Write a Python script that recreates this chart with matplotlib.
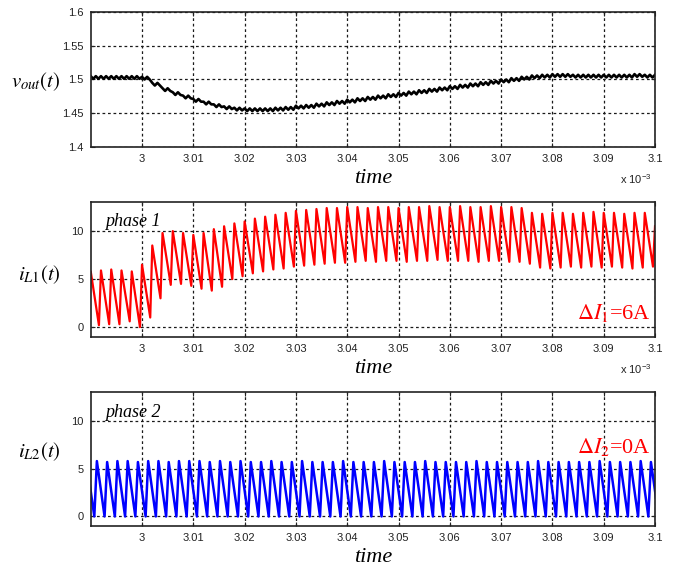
import matplotlib
matplotlib.use("Agg")
import matplotlib.pyplot as plt
import numpy as np

# time axis in units of 1e-3 s
x_ticks = [3.00, 3.01, 3.02, 3.03, 3.04, 3.05, 3.06, 3.07, 3.08, 3.09, 3.10]
x_tick_labels = ["3", "3.01", "3.02", "3.03", "3.04", "3.05", "3.06", "3.07", "3.08", "3.09", "3.1"]
v_ticks = [1.4, 1.45, 1.5, 1.55, 1.6]
v_tick_labels = ["1.4", "1.45", "1.5", "1.55", "1.6"]
i_ticks = [0, 5, 10]
i_tick_labels = ["0", "5", "10"]

# switching period and start of the window (1e-3 s)
period = 0.002
t_start = 2.990

# phase 1 inductor current: peak and valley of each switching cycle (A)
il1_peak = [5.8, 5.9, 6.0, 5.9, 5.8, 6.5, 8.5, 9.8, 10.0, 9.8,
            9.6, 9.8, 10.2, 10.5, 10.8, 11.0, 11.3, 11.5, 11.7, 11.9,
            12.1, 12.2, 12.3, 12.4, 12.4, 12.5, 12.5, 12.4, 12.5, 12.5,
            12.4, 12.5, 12.5, 12.6, 12.5, 12.5, 12.6, 12.5, 12.5, 12.6,
            12.5, 12.5, 12.4, 11.9, 11.8, 11.9, 11.9, 11.8, 11.9, 12.0,
            11.9, 11.9, 11.8, 11.9, 11.9, 10.5]
il1_valley = [0.2, 0.3, 0.3, 0.6, 0.0, 1.0, 3.0, 4.4, 4.5, 4.3,
              4.0, 3.8, 4.2, 5.0, 5.3, 5.6, 5.8, 6.0, 6.1, 6.3,
              6.4, 6.5, 6.6, 6.7, 6.7, 6.8, 6.9, 6.8, 6.9, 6.9,
              6.8, 6.9, 6.9, 7.0, 6.9, 6.9, 6.9, 6.8, 6.9, 6.9,
              6.8, 6.8, 6.6, 6.2, 6.1, 6.2, 6.3, 6.2, 6.3, 6.2,
              6.3, 6.2, 6.1, 6.2, 6.3]

# phase 2 inductor current (A)
il2_peak = [5.7, 5.8, 5.7, 5.8, 5.8, 5.7, 5.8, 5.8, 5.7, 5.8,
            5.8, 5.8, 5.7, 5.8, 5.7, 5.8, 5.7, 5.7, 5.8, 5.7,
            5.7, 5.8, 5.7, 5.7, 5.7, 5.8, 5.7, 5.7, 5.7, 5.8,
            5.7, 5.7, 5.7, 5.8, 5.7, 5.7, 5.7, 5.7, 5.8, 5.7,
            5.7, 5.7, 5.7, 5.7, 5.8, 5.7, 5.7, 5.7, 5.7, 5.7,
            5.8, 5.7, 5.7, 5.7, 5.8, 5.7]
il2_valley = [0.0, 0.0, 0.0, 0.0, 0.0, 0.0, 0.0, 0.0, 0.0, 0.0,
              0.0, 0.0, 0.0, 0.0, 0.0, 0.0, 0.0, 0.0, 0.0, 0.0,
              0.0, 0.0, 0.0, 0.0, 0.0, 0.0, 0.0, 0.0, 0.0, 0.0,
              0.0, 0.0, 0.0, 0.0, 0.0, 0.0, 0.0, 0.0, 0.0, 0.0,
              0.0, 0.0, 0.0, 0.0, 0.0, 0.0, 0.0, 0.0, 0.0, 0.0,
              0.0, 0.0, 0.0, 0.0, 0.0, 0.0]

# output voltage: mean over each switching cycle (V) and ripple half amplitude
vout_mean = [1.503, 1.503, 1.503, 1.503, 1.503, 1.502, 1.493, 1.485, 1.479, 1.474,
             1.469, 1.465, 1.461, 1.458, 1.456, 1.455, 1.455, 1.455, 1.456, 1.457,
             1.459, 1.460, 1.462, 1.464, 1.466, 1.468, 1.470, 1.472, 1.474, 1.476,
             1.478, 1.480, 1.482, 1.484, 1.486, 1.488, 1.490, 1.492, 1.494, 1.496,
             1.498, 1.500, 1.502, 1.504, 1.505, 1.506, 1.506, 1.505, 1.505, 1.505,
             1.505, 1.505, 1.505, 1.506, 1.505]
vout_ripple = 0.002


def sawtooth(t_first, peaks, valleys, fall, first_value):
    # peak -> slow fall to valley -> fast rise to next peak
    t = [t_first - (1 - fall) * period]
    y = [first_value]
    for k, p in enumerate(peaks):
        t.append(t_first + k * period)
        y.append(p)
        if k < len(valleys):
            t.append(t_first + (k + fall) * period)
            y.append(valleys[k])
    return np.array(t), np.array(y)


t1, y1 = sawtooth(t_start, il1_peak, il1_valley, 0.8, 0.0)
t2, y2 = sawtooth(t_start - 0.0008, il2_peak, il2_valley, 0.75, 0.0)

tv, yv = [], []
for k, m in enumerate(vout_mean):
    for j, s in enumerate([1, -1, 1, -1]):
        tv.append(t_start + (k + j / 4) * period)
        yv.append(m + s * vout_ripple)
tv.append(t_start + len(vout_mean) * period)
yv.append(vout_mean[-1] + vout_ripple)

plt.rcParams["mathtext.fontset"] = "stix"
plt.rcParams["font.family"] = "Liberation Sans"

fig = plt.figure(figsize=(6.73, 5.74), dpi=100)
ax_v = fig.add_axes([0.1348, 0.7444, 0.8385, 0.2342])
ax_1 = fig.add_axes([0.1348, 0.4134, 0.8385, 0.2342])
ax_2 = fig.add_axes([0.1348, 0.0836, 0.8385, 0.2329])

ax_v.plot(tv, yv, color="black", lw=1.9)
ax_1.plot(t1, y1, color="#ff0000", lw=1.6)
ax_2.plot(t2, y2, color="#0000ff", lw=1.8)

serif = "Liberation Serif"
for ax in (ax_v, ax_1, ax_2):
    ax.set_xlim(2.99, 3.10)
    ax.set_xticks(x_ticks)
    ax.set_xticklabels(x_tick_labels)
    ax.grid(True, color="#1a1a1a", linestyle=(0, (2.2, 2.2)), lw=0.9)
    ax.tick_params(direction="in", top=True, right=True, length=3,
                   labelsize=8, colors="#222222", pad=5)
    for s in ax.spines.values():
        s.set_color("#222222")
        s.set_linewidth(1.2)
    ax.text(0.5, -0.235, "time", transform=ax.transAxes, ha="center", va="center",
            fontsize=16, family=serif, style="italic")

for ax in (ax_v, ax_1):
    ax.text(0.995, -0.245, r"x 10$^{\mathregular{-3}}$", transform=ax.transAxes,
            ha="right", va="center", fontsize=8, color="#222222")

ax_v.set_ylim(1.4, 1.6)
ax_v.set_yticks(v_ticks)
ax_v.set_yticklabels(v_tick_labels)
for ax in (ax_1, ax_2):
    ax.set_ylim(-1, 13)
    ax.set_yticks(i_ticks)
    ax.set_yticklabels(i_tick_labels)

ax_v.text(-0.053, 0.484, r"$v_{out}(t)$", transform=ax_v.transAxes,
          ha="right", va="center", fontsize=15)
ax_1.text(-0.053, 0.459, r"$i_{L\mathit{1}}(t)$", transform=ax_1.transAxes,
          ha="right", va="center", fontsize=15)
ax_2.text(-0.053, 0.556, r"$i_{L\mathit{2}}(t)$", transform=ax_2.transAxes,
          ha="right", va="center", fontsize=15)

ax_1.text(0.025, 0.856, "phase 1", transform=ax_1.transAxes, ha="left",
          va="center", fontsize=13, family=serif, style="italic")
ax_2.text(0.025, 0.85, "phase 2", transform=ax_2.transAxes, ha="left",
          va="center", fontsize=13, family=serif, style="italic")

ax_1.text(0.993, 0.176, r"$\Delta I_{\mathit{1}}$=6A", transform=ax_1.transAxes,
          ha="right", va="center", fontsize=16, family=serif, color="#ff0000")
ax_2.text(0.993, 0.59, r"$\Delta I_{\mathit{2}}$=0A", transform=ax_2.transAxes,
          ha="right", va="center", fontsize=16, family=serif, color="#ff0000")

fig.savefig("out.png", dpi=100)
